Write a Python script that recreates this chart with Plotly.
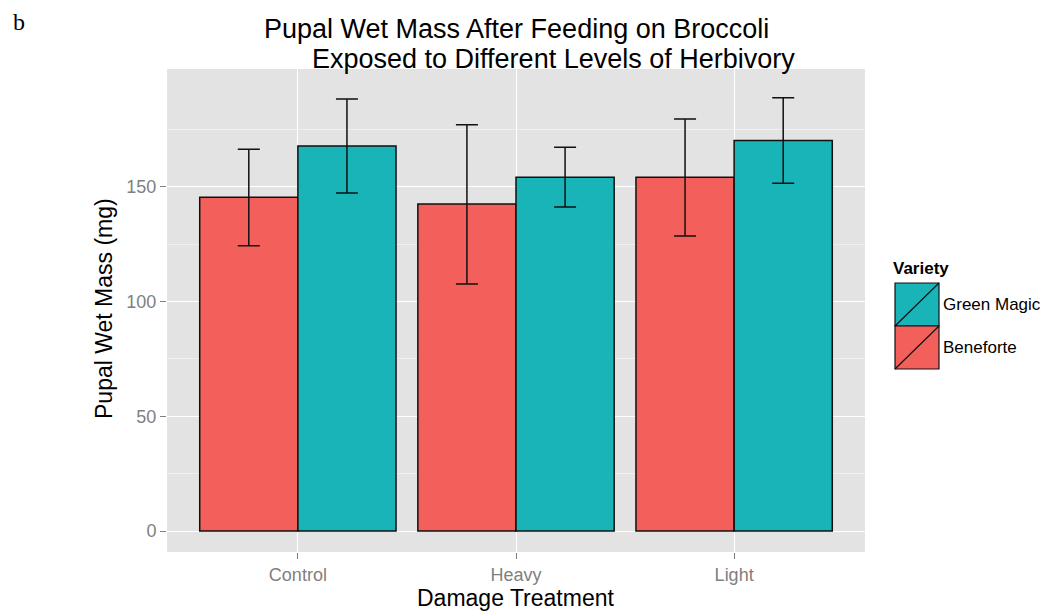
import plotly.graph_objects as go

treatments = ["Control", "Heavy", "Light"]
varieties = ["Beneforte", "Green Magic"]
beneforte_mean = [145.4, 142.5, 154.1]
beneforte_lo = [124.3, 107.6, 128.5]
beneforte_hi = [166.3, 177.0, 179.5]
greenmagic_mean = [167.7, 154.1, 170.2]
greenmagic_lo = [147.3, 141.2, 151.5]
greenmagic_hi = [188.2, 167.2, 188.8]
colors = {"Beneforte": "#F35F5B", "Green Magic": "#18B4B8"}
y_ticks = [0, 50, 100, 150]

# page body has an 8px margin; compensate
OFF = 8
W, H = 1053 - OFF, 612 - OFF
L, R, T, B = 167, 865, 69, 552  # plot panel in screenshot pixels

def px(x):
    return (x - L) / (R - L)

def py(y):
    return (B - y) / (B - T)

fig = go.Figure()
for name, mean, lo, hi in [("Beneforte", beneforte_mean, beneforte_lo, beneforte_hi),
                           ("Green Magic", greenmagic_mean, greenmagic_lo, greenmagic_hi)]:
    fig.add_trace(go.Bar(
        x=treatments, y=mean, name=name,
        marker=dict(color=colors[name], line=dict(color="#111111", width=1.5)),
        error_y=dict(type="data", symmetric=False,
                     array=[h - m for h, m in zip(hi, mean)],
                     arrayminus=[m - l for m, l in zip(mean, lo)],
                     color="#111111", thickness=1.5, width=11),
        showlegend=False,
    ))

fig.update_layout(
    width=W, height=H,
    margin=dict(l=L - OFF, r=W - (R - OFF), t=T - OFF, b=H - (B - OFF), pad=0),
    paper_bgcolor="white", plot_bgcolor="#E3E3E3",
    barmode="group", bargap=0.1, bargroupgap=0,
    font=dict(family="Liberation Sans, Arial, sans-serif", color="black"),
    xaxis=dict(range=[-0.6, 2.6], showgrid=True, gridcolor="white", gridwidth=1.3,
               ticks="outside", ticklen=6, tickcolor="#7f7f7f", tickwidth=1,
               tickfont=dict(size=18, color="#7f7f7f"), zeroline=False),
    yaxis=dict(range=[-9.15, 201.3], tickvals=y_ticks, showgrid=True, gridcolor="white",
               gridwidth=1.3, ticks="outside", ticklen=6, tickcolor="#7f7f7f", tickwidth=1,
               tickfont=dict(size=18, color="#7f7f7f"),
               minor=dict(tick0=25, dtick=50, showgrid=True, gridcolor="#F0F0F0", gridwidth=0.8),
               zeroline=False),
)

# Title lines
fig.add_annotation(text="Pupal Wet Mass After Feeding on Broccoli", xref="paper", yref="paper",
                   x=px(516), y=py(29), showarrow=False, font=dict(size=27), xanchor="center", yanchor="middle")
fig.add_annotation(text="Exposed to Different Levels of Herbivory", xref="paper", yref="paper",
                   x=px(553), y=py(59), showarrow=False, font=dict(size=27), xanchor="center", yanchor="middle")
# Axis titles
fig.add_annotation(text="Damage Treatment", xref="paper", yref="paper", x=px(515), y=py(598),
                   showarrow=False, font=dict(size=23), xanchor="center", yanchor="middle")
fig.add_annotation(text="Pupal Wet Mass (mg)", xref="paper", yref="paper", x=px(104), y=py(309),
                   showarrow=False, font=dict(size=23), textangle=-90, xanchor="center", yanchor="middle")
# Panel label
fig.add_annotation(text="b", xref="paper", yref="paper", x=px(11), y=py(22), showarrow=False,
                   font=dict(size=24, family="Liberation Serif, Times New Roman, serif"),
                   xanchor="left", yanchor="middle")

# Custom legend
fig.add_annotation(text="<b>Variety</b>", xref="paper", yref="paper", x=px(891), y=py(268),
                   showarrow=False, font=dict(size=17), xanchor="left", yanchor="middle")
keys = [("Green Magic", 283, 326), ("Beneforte", 326, 369)]
for name, y0, y1 in keys:
    fig.add_shape(type="rect", xref="paper", yref="paper", x0=px(895), x1=px(939),
                  y0=py(y1), y1=py(y0), fillcolor=colors[name], line=dict(color="#111111", width=1.2))
    fig.add_shape(type="line", xref="paper", yref="paper", x0=px(895), x1=px(939),
                  y0=py(y1), y1=py(y0), line=dict(color="#111111", width=1.2))
    fig.add_annotation(text=name, xref="paper", yref="paper", x=px(941), y=py((y0 + y1) / 2),
                       showarrow=False, font=dict(size=17), xanchor="left", yanchor="middle")

fig.write_html("out.html")
